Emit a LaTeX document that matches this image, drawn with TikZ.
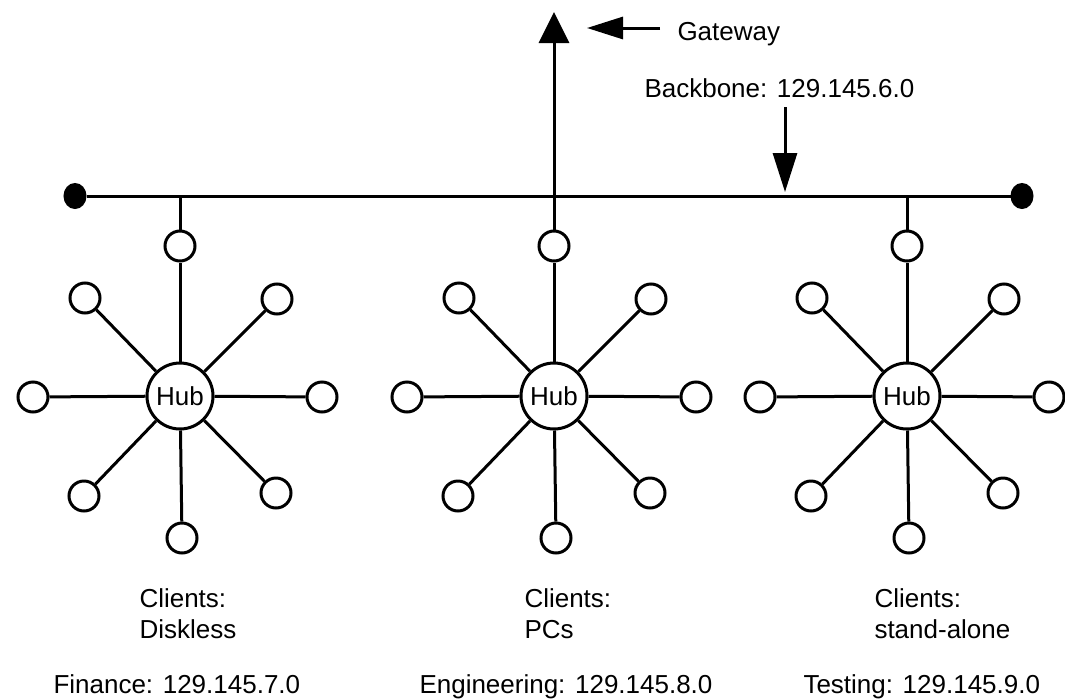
\documentclass[tikz,border=0pt]{standalone}
\usepackage{fontspec}
\setmainfont{Liberation Sans}
\usetikzlibrary{arrows.meta,shapes.geometric}

\begin{document}
\begin{tikzpicture}[x=1pt, y=-1pt, line width=3pt,
    font=\fontsize{26}{31}\selectfont,
    hub/.style={draw, circle, fill=white, minimum size=66pt, inner sep=0pt},
    client/.style={draw, circle, fill=white, minimum size=30pt, inner sep=0pt},
    enddot/.style={draw, fill, ellipse, minimum width=20pt, minimum height=23pt, inner sep=0pt},
    txt/.style={inner sep=0pt, anchor=base west}]
  \useasboundingbox (0,0) rectangle (1065,699);

  % 1. Backbone with its two end points
  \node[enddot] (west) at (75,196) {};
  \node[enddot] (east) at (1022,196) {};
  \draw (west) -- (east);

  % 2. The three hubs
  \node[hub] (fin) at (180,396) {Hub};
  \node[hub] (eng) at (554,396) {Hub};
  \node[hub] (tst) at (907,396) {Hub};

  % 3. Eight clients round every hub
  \foreach \h in {fin,eng,tst} {
    \foreach \n/\dx/\dy in {n/0/-150, nw/-95/-98, ne/97/-97, w/-147/1,
                            e/142/1, sw/-96/100, se/96/97, s/2/142} {
      \path (\h) ++(\dx,\dy) node[client] (\h-\n) {};
      \draw (\h) -- (\h-\n);
    }
  }

  % 4. Drops to the backbone, the middle one goes on to the gateway
  \draw (fin-n) -- (fin-n |- west);
  \draw (tst-n) -- (tst-n |- west);
  \coordinate (gw) at (554,12);
  \draw[-{Triangle[length=31pt,width=30pt]}] (eng-n) -- (gw);

  % 5. Gateway and backbone labels
  \node[txt] (gwtext) at (676,40) {Gateway};
  \coordinate (gwtail) at (660,28);
  \coordinate (gwtip) at (587,28);
  \draw[-{Triangle[length=36pt,width=22pt]}] (gwtail) -- (gwtip);

  \node[txt] (bbtext) at (643,97) {Backbone: 129.145.6.0};
  \coordinate (bbtail) at (785,107);
  \coordinate (bbtip) at (785,192);
  \draw[-{Triangle[length=39pt,width=24pt]}] (bbtail) -- (bbtip);

  % 6. Subnet captions
  \node[txt, anchor=north west, align=left] (fincl) at (138,587) {Clients:\\Diskless};
  \node[txt, anchor=north west, align=left] (engcl) at (523,587) {Clients:\\PCs};
  \node[txt, anchor=north west, align=left] (tstcl) at (873,587) {Clients:\\stand-alone};

  \node[txt] (finnet) at (52,693) {Finance: 129.145.7.0};
  \node[txt] (engnet) at (418,693) {Engineering: 129.145.8.0};
  \node[txt] (tstnet) at (802,693) {Testing: 129.145.9.0};
\end{tikzpicture}
\end{document}
